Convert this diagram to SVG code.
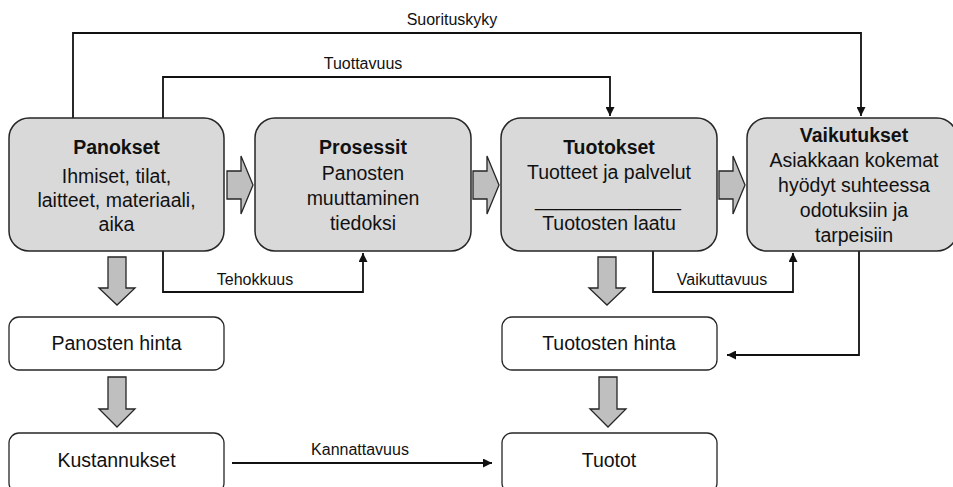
<svg xmlns="http://www.w3.org/2000/svg" width="953" height="487" viewBox="0 0 953 487">
<defs>
<style>
.box{fill:#d9d9d9;stroke:#262626;stroke-width:1.5}
.wbox{fill:#ffffff;stroke:#262626;stroke-width:1.3}
.blk{fill:#bfbfbf;stroke:#262626;stroke-width:1.3;stroke-linejoin:miter}
.t{font-family:"Liberation Sans",Arial,sans-serif;font-size:19.5px;fill:#111;text-anchor:middle}
.b{font-weight:bold}
.lbl{font-family:"Liberation Sans",Arial,sans-serif;font-size:16px;fill:#111;text-anchor:middle}
.con{fill:none;stroke:#111;stroke-width:1.8}
</style>
<marker id="ah" viewBox="0 0 10 10" refX="10" refY="5" markerWidth="5" markerHeight="5" orient="auto" markerUnits="strokeWidth">
<path d="M0,0 L10,5 L0,10 Z" fill="#111"/>
</marker>
</defs>
<rect width="953" height="487" fill="#ffffff"/>

<g id="connectors">
<polyline class="con" points="73,118 73,33 861,33 861,116" marker-end="url(#ah)"/>
<polyline class="con" points="163,118 163,77 610,77 610,116" marker-end="url(#ah)"/>
<polyline class="con" points="163,251 163,292 363,292 363,253" marker-end="url(#ah)"/>
<polyline class="con" points="653,251 653,292 793,292 793,253" marker-end="url(#ah)"/>
<polyline class="con" points="859,251 859,355 727,355" marker-end="url(#ah)"/>
<line class="con" x1="232" y1="463" x2="492" y2="463" marker-end="url(#ah)"/>
<text class="lbl" x="452" y="25">Suorituskyky</text>
<text class="lbl" x="363" y="69">Tuottavuus</text>
<text class="lbl" x="255" y="285">Tehokkuus</text>
<text class="lbl" x="722" y="285">Vaikuttavuus</text>
<text class="lbl" x="360" y="455">Kannattavuus</text>
</g>

<g id="block-arrows">
<path class="blk" d="M227,171 H241 V156 L253,185 L241,214 V199 H227 Z"/>
<path class="blk" d="M473,171 H487 V156 L499,185 L487,214 V199 H473 Z"/>
<path class="blk" d="M719,171 H733 V156 L745,185 L733,214 V199 H719 Z"/>
<path class="blk" d="M108,257 H126 V288 H135 L117,305 L99,288 H108 Z"/>
<path class="blk" d="M108,377 H126 V409 H135 L117,427 L99,409 H108 Z"/>
<path class="blk" d="M598,257 H616 V288 H625 L607,305 L589,288 H598 Z"/>
<path class="blk" d="M599,377 H617 V409 H626 L608,427 L590,409 H599 Z"/>
</g>

<g id="panokset">
<rect class="box" x="9" y="118" width="215" height="133" rx="20"/>
<text class="t b" x="116.5" y="154">Panokset</text>
<text class="t" x="116.5" y="183">Ihmiset, tilat,</text>
<text class="t" x="116.5" y="207">laitteet, materiaali,</text>
<text class="t" x="116.5" y="231">aika</text>
</g>

<g id="prosessit">
<rect class="box" x="255" y="118" width="216" height="133" rx="20"/>
<text class="t b" x="363" y="154">Prosessit</text>
<text class="t" x="363" y="180">Panosten</text>
<text class="t" x="363" y="205">muuttaminen</text>
<text class="t" x="363" y="230">tiedoksi</text>
</g>

<g id="tuotokset">
<rect class="box" x="501" y="118" width="216" height="133" rx="20"/>
<text class="t b" x="609" y="154">Tuotokset</text>
<text class="t" x="609" y="179">Tuotteet ja palvelut</text>
<text class="t" x="608" y="206" textLength="146" lengthAdjust="spacingAndGlyphs">______________</text>
<text class="t" x="609" y="230">Tuotosten laatu</text>
</g>

<g id="vaikutukset">
<rect class="box" x="747" y="118" width="210" height="133" rx="20"/>
<text class="t b" x="854" y="142">Vaikutukset</text>
<text class="t" x="854" y="167">Asiakkaan kokemat</text>
<text class="t" x="854" y="192">hyödyt suhteessa</text>
<text class="t" x="854" y="217">odotuksiin ja</text>
<text class="t" x="854" y="242">tarpeisiin</text>
</g>

<g id="panosten-hinta">
<rect class="wbox" x="9" y="317" width="215" height="53" rx="10"/>
<text class="t" x="116.5" y="350">Panosten hinta</text>
</g>

<g id="kustannukset">
<rect class="wbox" x="9" y="433" width="215" height="60" rx="10"/>
<text class="t" x="116.5" y="467">Kustannukset</text>
</g>

<g id="tuotosten-hinta">
<rect class="wbox" x="502" y="317" width="215" height="53" rx="10"/>
<text class="t" x="609" y="350">Tuotosten hinta</text>
</g>

<g id="tuotot">
<rect class="wbox" x="502" y="433" width="215" height="60" rx="10"/>
<text class="t" x="609" y="467">Tuotot</text>
</g>
</svg>
